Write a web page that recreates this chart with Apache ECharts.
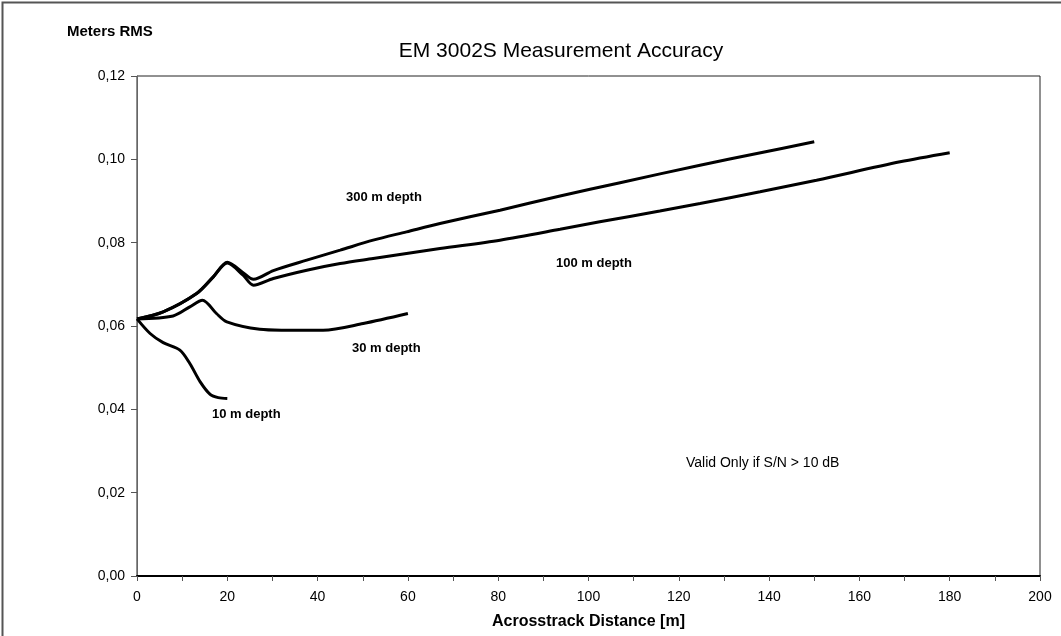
<!DOCTYPE html>
<html>
<head>
<meta charset="utf-8">
<script src="https://cdn.jsdelivr.net/npm/echarts@6/dist/echarts.min.js"></script>
<style>
  html, body { margin: 0; padding: 0; background: #fff; }
  #chart { width: 1061px; height: 636px; }
</style>
</head>
<body>
<div id="chart"></div>
<script>
// values
const xTicks = [0, 20, 40, 60, 80, 100, 120, 140, 160, 180, 200];
const yTicks = [0, 0.02, 0.04, 0.06, 0.08, 0.10, 0.12];

const depth300X = [0, 5.8, 13.2, 16.9, 20, 23.5, 25.8, 30.2, 37.6, 45, 52.3, 59.7, 67.1, 80.4, 93.7, 107, 124.7, 137.3, 150];
const depth300Y = [0.0617, 0.0634, 0.0678, 0.0718, 0.0753, 0.0728, 0.0712, 0.0733, 0.0758, 0.0782, 0.0806, 0.0826, 0.0846, 0.0878, 0.0912, 0.0944, 0.0986, 0.1014, 0.1042];

const depth100X = [0, 5.8, 13.2, 16.9, 20, 23.5, 25.8, 30.2, 37.6, 45, 52.3, 59.7, 67.1, 80.4, 93.7, 102.5, 115.8, 124.7, 138, 150.5, 169, 180];
const depth100Y = [0.0617, 0.0634, 0.0678, 0.0718, 0.0751, 0.0722, 0.0698, 0.0714, 0.0734, 0.0750, 0.0762, 0.0774, 0.0786, 0.0806, 0.0832, 0.0850, 0.0876, 0.0894, 0.0922, 0.0950, 0.0994, 0.1016];

const depth30X = [0, 8, 11.7, 14.5, 17.6, 19.9, 27.2, 32, 41.2, 50.1, 60];
const depth30Y = [0.0617, 0.0624, 0.0646, 0.0662, 0.0630, 0.0610, 0.0592, 0.0590, 0.0590, 0.0606, 0.0630];

const depth10X = [0, 2.9, 5.8, 9.5, 11.7, 14, 16.2, 18, 20];
const depth10Y = [0.0617, 0.0582, 0.0560, 0.0542, 0.0510, 0.0466, 0.0436, 0.0428, 0.0426];

const toPairs = (xs, ys) => xs.map((x, i) => [x, ys[i]]);

const lineSeries = (name, xs, ys) => ({
  name: name,
  type: "line",
  data: toPairs(xs, ys),
  smooth: 0.3,
  showSymbol: false,
  lineStyle: { color: "#000", width: 3 },
  animation: false
});

const labelText = (left, top, text, bold, size) => ({
  type: "text",
  left: left,
  top: top,
  style: {
    text: text,
    fill: "#000",
    font: (bold ? "bold " : "") + size + "px Arial, 'Liberation Sans', sans-serif"
  }
});

const chart = echarts.init(document.getElementById("chart"));

chart.setOption({
  backgroundColor: "#fff",
  animation: false,
  title: {
    text: "EM 3002S Measurement Accuracy",
    left: 556,
    top: 36,
    textAlign: "center",
    textStyle: { fontFamily: "Arial, 'Liberation Sans', sans-serif", fontWeight: "normal", fontSize: 21, color: "#000" }
  },
  grid: { left: 137, right: 21, top: 76, bottom: 60, show: true, borderColor: "#222", borderWidth: 1 },
  xAxis: {
    type: "value",
    min: 0,
    max: 200,
    interval: 20,
    name: "Acrosstrack Distance [m]",
    nameLocation: "middle",
    nameGap: 38,
    nameTextStyle: { fontFamily: "Arial, 'Liberation Sans', sans-serif", fontWeight: "bold", fontSize: 16, color: "#000" },
    axisLine: { lineStyle: { color: "#000", width: 2 } },
    axisTick: { show: true, length: 5, lineStyle: { color: "#555" } },
    minorTick: { show: true, splitNumber: 2, length: 5, lineStyle: { color: "#555" } },
    splitLine: { show: false },
    axisLabel: { fontFamily: "Arial, 'Liberation Sans', sans-serif", fontSize: 14, color: "#000", margin: 14 }
  },
  yAxis: {
    type: "value",
    min: 0,
    max: 0.12,
    interval: 0.02,
    axisLine: { show: true, lineStyle: { color: "#666", width: 1 } },
    axisTick: { show: true, length: 6, lineStyle: { color: "#555" } },
    splitLine: { show: false },
    axisLabel: {
      fontFamily: "Arial, 'Liberation Sans', sans-serif",
      fontSize: 14,
      color: "#000",
      margin: 12,
      formatter: v => v.toFixed(2).replace(".", ",")
    }
  },
  series: [
    lineSeries("300 m depth", depth300X, depth300Y),
    lineSeries("100 m depth", depth100X, depth100Y),
    lineSeries("30 m depth", depth30X, depth30Y),
    lineSeries("10 m depth", depth10X, depth10Y)
  ],
  graphic: [
    {
      type: "rect",
      left: 0,
      top: 0,
      shape: { width: 1060, height: 635 },
      style: { fill: "none", stroke: "#555", lineWidth: 2 },
      silent: true
    },
    labelText(67, 24, "Meters RMS", true, 15),
    labelText(346, 191, "300 m depth", true, 13),
    labelText(556, 257, "100 m depth", true, 13),
    labelText(352, 342, "30 m depth", true, 13),
    labelText(212, 408, "10 m depth", true, 13),
    labelText(686, 456, "Valid Only if S/N > 10 dB", false, 14)
  ]
});
</script>
</body>
</html>
